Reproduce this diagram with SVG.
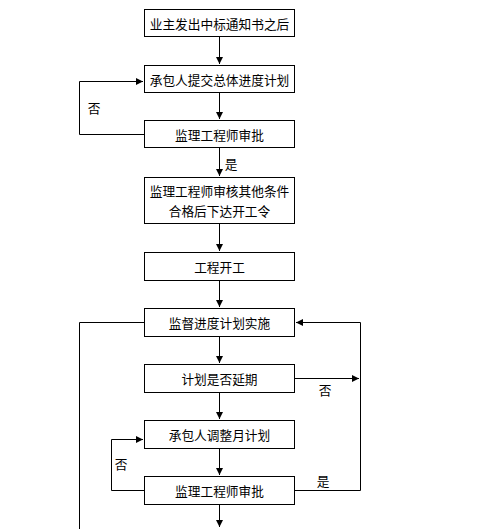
<svg xmlns="http://www.w3.org/2000/svg" width="485" height="529" viewBox="0 0 485 529">
<style>
.box{fill:#fff;stroke:#000;stroke-width:1}
.t{font-family:"Noto Sans CJK SC","Noto Sans CJK JP",sans-serif;font-size:12.7px;fill:#000;text-anchor:middle;dominant-baseline:central}
.c{fill:none;stroke:#000;stroke-width:1}
</style>
<defs>
<marker id="ah" markerUnits="userSpaceOnUse" markerWidth="8" markerHeight="8" refX="7" refY="3.5" orient="auto">
<path d="M0,0 L7,3.5 L0,7 z" fill="#000"/>
</marker>
</defs>
<rect width="485" height="529" fill="#fff"/>
<g id="n1"><rect class="box" x="144.5" y="9.5" width="150" height="27"/><text class="t" x="219.5" y="23">业主发出中标通知书之后</text></g>
<g id="n2"><rect class="box" x="144.5" y="65.5" width="150" height="27"/><text class="t" x="219.5" y="79">承包人提交总体进度计划</text></g>
<g id="n3"><rect class="box" x="144.5" y="120.5" width="150" height="27"/><text class="t" x="219.5" y="134">监理工程师审批</text></g>
<g id="n4"><rect class="box" x="144.5" y="177.5" width="150" height="46"/><text class="t" x="219.5" y="190">监理工程师审核其他条件</text><text class="t" x="219.5" y="210">合格后下达开工令</text></g>
<g id="n5"><rect class="box" x="144.5" y="252.5" width="150" height="28"/><text class="t" x="219.5" y="266.5">工程开工</text></g>
<g id="n6"><rect class="box" x="144.5" y="308.5" width="150" height="28"/><text class="t" x="219.5" y="322">监督进度计划实施</text></g>
<g id="n7"><rect class="box" x="144.5" y="364.5" width="150" height="28"/><text class="t" x="219.5" y="378">计划是否延期</text></g>
<g id="n8"><rect class="box" x="144.5" y="420.5" width="150" height="28"/><text class="t" x="219.5" y="434">承包人调整月计划</text></g>
<g id="n9"><rect class="box" x="144.5" y="476.5" width="150" height="28"/><text class="t" x="219.5" y="490">监理工程师审批</text></g>
<g id="connectors">
<line class="c" x1="219.5" y1="37" x2="219.5" y2="64" marker-end="url(#ah)"/>
<line class="c" x1="219.5" y1="93" x2="219.5" y2="119" marker-end="url(#ah)"/>
<line class="c" x1="219.5" y1="148" x2="219.5" y2="176" marker-end="url(#ah)"/>
<line class="c" x1="219.5" y1="224" x2="219.5" y2="251" marker-end="url(#ah)"/>
<line class="c" x1="219.5" y1="281" x2="219.5" y2="307" marker-end="url(#ah)"/>
<line class="c" x1="219.5" y1="337" x2="219.5" y2="363" marker-end="url(#ah)"/>
<line class="c" x1="219.5" y1="393" x2="219.5" y2="419" marker-end="url(#ah)"/>
<line class="c" x1="219.5" y1="449" x2="219.5" y2="475" marker-end="url(#ah)"/>
<line class="c" x1="219.5" y1="505" x2="219.5" y2="527" marker-end="url(#ah)"/>
<polyline class="c" points="144,134.5 79.5,134.5 79.5,81.5 143,81.5" marker-end="url(#ah)"/>
<polyline class="c" points="144,490.5 111.5,490.5 111.5,439.5 143,439.5" marker-end="url(#ah)"/>
<line class="c" x1="295" y1="378.5" x2="359" y2="378.5" marker-end="url(#ah)"/>
<polyline class="c" points="295,490.5 360.5,490.5 360.5,322.5 296,322.5" marker-end="url(#ah)"/>
<polyline class="c" points="144,322.5 79.5,322.5 79.5,529"/>
<text class="t" x="231" y="163">是</text>
<text class="t" x="94" y="107">否</text>
<text class="t" x="121" y="463">否</text>
<text class="t" x="325" y="389">否</text>
<text class="t" x="323" y="480">是</text>
</g>
</svg>
